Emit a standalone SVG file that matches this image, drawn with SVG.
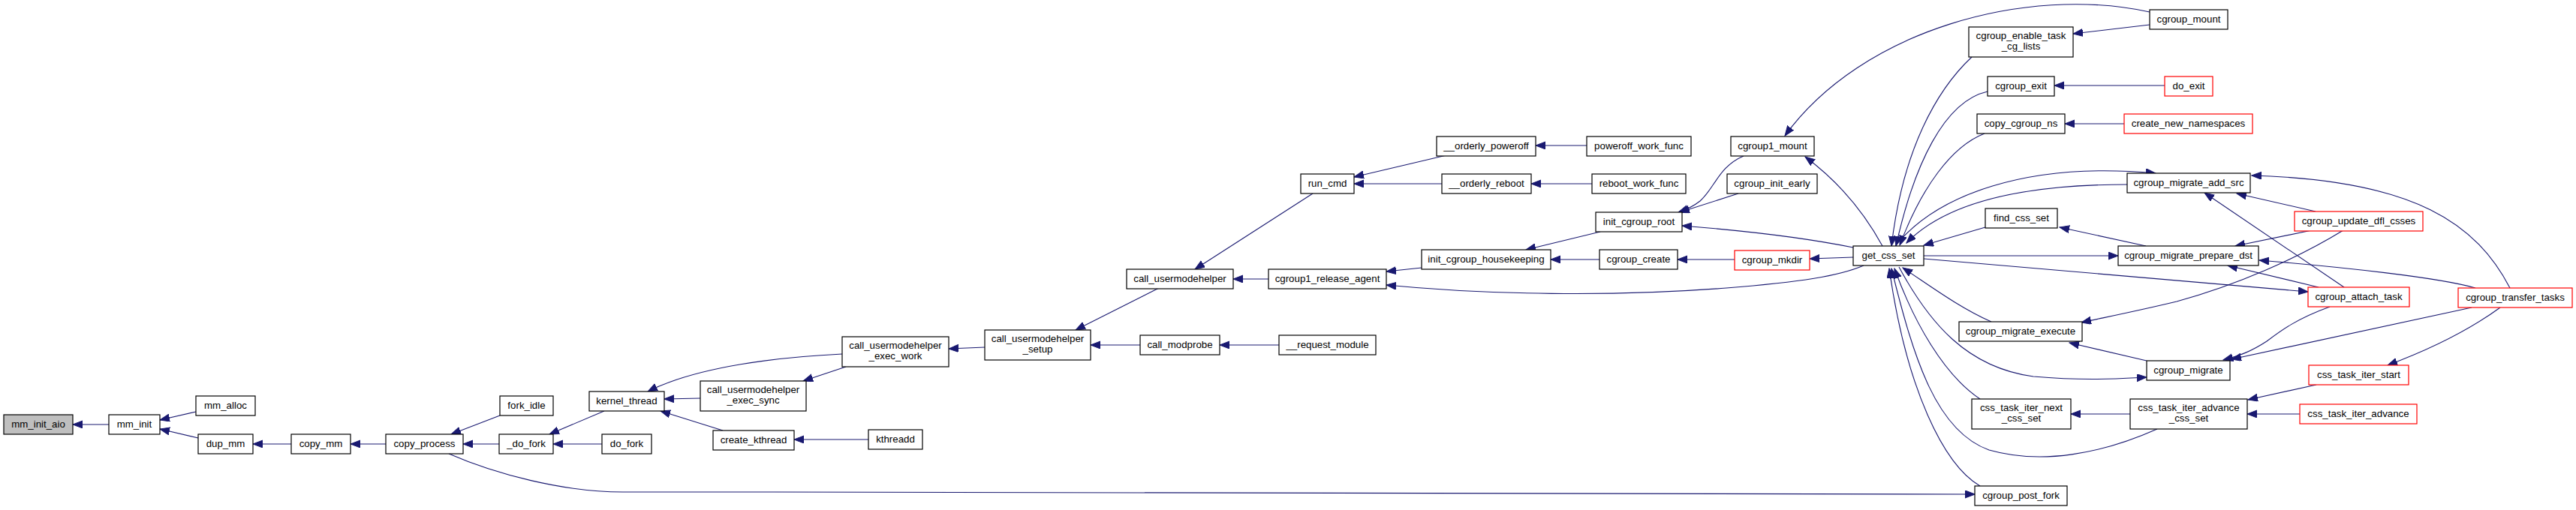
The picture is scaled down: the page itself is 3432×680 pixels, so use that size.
<svg xmlns="http://www.w3.org/2000/svg" width="3432" height="680" viewBox="0 0 3432 680">
<defs>
<style>
.n rect{fill:#fff;stroke:#000;stroke-width:1.2}
.n.root rect{fill:#bfbfbf}
.n.red rect{stroke:#ff0000}
.n text{font-family:"Liberation Sans",Arial,sans-serif;font-size:13.3px;fill:#000;text-anchor:middle}
#edges path{fill:none;stroke:#191970;stroke-width:1.1;marker-end:url(#ah)}
</style>
<marker id="ah" markerWidth="14" markerHeight="11" refX="13" refY="5" orient="auto" markerUnits="userSpaceOnUse">
<path d="M0,0 L13,5 L0,10 z" fill="#191970" stroke="#191970" stroke-width="1"/>
</marker>
</defs>
<rect width="3432" height="680" fill="#fff"/>
<g id="edges">
<path d="M145,566 L97,566"/>
<path d="M261,549 L213,560"/>
<path d="M264,584 L213,572"/>
<path d="M388,592 L337,592"/>
<path d="M514,592 L467,592"/>
<path d="M666,554 L601,579"/>
<path d="M665,592 L617,592"/>
<path d="M805,548 L732,579"/>
<path d="M802,592 L737,592"/>
<path d="M933,531 L885,532"/>
<path d="M963,574 L880,548"/>
<path d="M1122,472 C1040,476 930,488 863,522"/>
<path d="M1127,489 L1070,508"/>
<path d="M1157,586 L1058,586"/>
<path d="M1312,463 L1264,465"/>
<path d="M1544,384 L1433,440"/>
<path d="M1519,460 L1453,460"/>
<path d="M1704,460 L1625,460"/>
<path d="M1749,258 L1592,359"/>
<path d="M1690,372 L1643,372"/>
<path d="M1927,207 L1804,236"/>
<path d="M1921,245 L1804,245"/>
<path d="M2114,194 L2046,194"/>
<path d="M2121,245 L2040,245"/>
<path d="M1894,357 L1847,362"/>
<path d="M2132,309 L2033,333"/>
<path d="M2131,346 L2066,346"/>
<path d="M2311,346 L2235,346"/>
<path d="M2469,343 L2411,345"/>
<path d="M2483,354 C2450,368 2400,376 2300,384 C2150,396 1980,393 1847,380"/>
<path d="M2469,330 C2400,316 2330,308 2241,301"/>
<path d="M2323,208 C2290,222 2285,250 2265,268 C2255,276 2245,280 2236,283"/>
<path d="M2316,258 L2238,283"/>
<path d="M2508,328 C2490,295 2460,250 2405,209"/>
<path d="M2864,16 C2700,-20 2480,40 2378,181"/>
<path d="M2864,33 L2762,45"/>
<path d="M2627,76 C2580,120 2535,200 2520,328"/>
<path d="M2648,122 C2590,135 2550,220 2526,328"/>
<path d="M2644,178 C2600,195 2560,250 2531,327"/>
<path d="M2834,246 C2720,246 2600,262 2540,324"/>
<path d="M2525,328 C2580,260 2700,215 2872,231"/>
<path d="M2645,303 L2563,327"/>
<path d="M2859,328 L2744,303"/>
<path d="M2563,341 L2822,341"/>
<path d="M2563,345 L3075,389"/>
<path d="M2653,429 C2610,410 2570,380 2535,357"/>
<path d="M2530,356 C2570,430 2620,490 2709,502 C2780,508 2820,505 2860,503"/>
<path d="M2638,532 C2590,500 2550,430 2524,358"/>
<path d="M2874,572 C2800,605 2720,620 2650,600 C2580,575 2550,480 2520,358"/>
<path d="M2638,648 C2590,620 2540,520 2517,358"/>
<path d="M598,605 C660,632 750,656 830,656 C1500,656 2200,656 2631,659"/>
<path d="M2884,114 L2737,114"/>
<path d="M2830,165 L2751,165"/>
<path d="M3122,307 C3060,345 2980,380 2900,402 C2850,414 2810,422 2773,430"/>
<path d="M2860,481 L2757,457"/>
<path d="M3085,282 L2980,258"/>
<path d="M3080,307 L2978,328"/>
<path d="M3123,383 L2937,257"/>
<path d="M3089,383 L2968,354"/>
<path d="M3298,384 C3250,370 3120,356 3010,347"/>
<path d="M3344,384 C3300,300 3220,240 3000,234"/>
<path d="M3104,409 C3060,425 3040,440 3020,455 C3000,468 2985,474 2962,480"/>
<path d="M3293,410 L2973,479"/>
<path d="M3331,410 C3290,440 3240,465 3181,487"/>
<path d="M3086,513 L2995,533"/>
<path d="M3064,552 L2994,552"/>
<path d="M2838,552 L2759,552"/>
</g>
<g id="mm_init_aio" class="n root"><rect x="5" y="553" width="92" height="26"/><text x="51" y="570">mm_init_aio</text></g>
<g id="mm_init" class="n"><rect x="145" y="553" width="68" height="26"/><text x="179" y="570">mm_init</text></g>
<g id="mm_alloc" class="n"><rect x="261" y="528" width="79" height="26"/><text x="300.5" y="545">mm_alloc</text></g>
<g id="dup_mm" class="n"><rect x="264" y="579" width="73" height="26"/><text x="300.5" y="596">dup_mm</text></g>
<g id="copy_mm" class="n"><rect x="388" y="579" width="79" height="26"/><text x="427.5" y="596">copy_mm</text></g>
<g id="copy_process" class="n"><rect x="514" y="579" width="103" height="26"/><text x="565.5" y="596">copy_process</text></g>
<g id="fork_idle" class="n"><rect x="666" y="528" width="71" height="26"/><text x="701.5" y="545">fork_idle</text></g>
<g id="_do_fork" class="n"><rect x="665" y="579" width="72" height="26"/><text x="701" y="596">_do_fork</text></g>
<g id="do_fork" class="n"><rect x="802" y="579" width="66" height="26"/><text x="835" y="596">do_fork</text></g>
<g id="kernel_thread" class="n"><rect x="785" y="522" width="100" height="26"/><text x="835" y="539">kernel_thread</text></g>
<g id="call_usermodehelper_exec_sync" class="n"><rect x="933" y="508" width="141" height="40"/><text x="1003.5" y="524">call_usermodehelper</text><text x="1003.5" y="538">_exec_sync</text></g>
<g id="create_kthread" class="n"><rect x="950" y="574" width="108" height="26"/><text x="1004" y="591">create_kthread</text></g>
<g id="call_usermodehelper_exec_work" class="n"><rect x="1122" y="449" width="142" height="40"/><text x="1193" y="465">call_usermodehelper</text><text x="1193" y="479">_exec_work</text></g>
<g id="kthreadd" class="n"><rect x="1157" y="573" width="72" height="26"/><text x="1193" y="590">kthreadd</text></g>
<g id="call_usermodehelper_setup" class="n"><rect x="1312" y="440" width="141" height="40"/><text x="1382.5" y="456">call_usermodehelper</text><text x="1382.5" y="470">_setup</text></g>
<g id="call_modprobe" class="n"><rect x="1519" y="447" width="106" height="26"/><text x="1572" y="464">call_modprobe</text></g>
<g id="__request_module" class="n"><rect x="1704" y="447" width="129" height="26"/><text x="1768.5" y="464">__request_module</text></g>
<g id="call_usermodehelper" class="n"><rect x="1501" y="359" width="142" height="26"/><text x="1572" y="376">call_usermodehelper</text></g>
<g id="cgroup1_release_agent" class="n"><rect x="1690" y="359" width="157" height="26"/><text x="1768.5" y="376">cgroup1_release_agent</text></g>
<g id="run_cmd" class="n"><rect x="1733" y="232" width="71" height="26"/><text x="1768.5" y="249">run_cmd</text></g>
<g id="__orderly_poweroff" class="n"><rect x="1914" y="182" width="132" height="26"/><text x="1980" y="199">__orderly_poweroff</text></g>
<g id="poweroff_work_func" class="n"><rect x="2114" y="182" width="139" height="26"/><text x="2183.5" y="199">poweroff_work_func</text></g>
<g id="__orderly_reboot" class="n"><rect x="1921" y="232" width="119" height="26"/><text x="1980.5" y="249">__orderly_reboot</text></g>
<g id="reboot_work_func" class="n"><rect x="2121" y="232" width="125" height="26"/><text x="2183.5" y="249">reboot_work_func</text></g>
<g id="init_cgroup_root" class="n"><rect x="2126" y="283" width="115" height="26"/><text x="2183.5" y="300">init_cgroup_root</text></g>
<g id="init_cgroup_housekeeping" class="n"><rect x="1894" y="333" width="172" height="26"/><text x="1980" y="350">init_cgroup_housekeeping</text></g>
<g id="cgroup_create" class="n"><rect x="2131" y="333" width="104" height="26"/><text x="2183" y="350">cgroup_create</text></g>
<g id="cgroup1_mount" class="n"><rect x="2306" y="182" width="111" height="26"/><text x="2361.5" y="199">cgroup1_mount</text></g>
<g id="cgroup_init_early" class="n"><rect x="2301" y="232" width="120" height="26"/><text x="2361" y="249">cgroup_init_early</text></g>
<g id="cgroup_mkdir" class="n red"><rect x="2311" y="334" width="100" height="26"/><text x="2361" y="351">cgroup_mkdir</text></g>
<g id="get_css_set" class="n"><rect x="2469" y="328" width="94" height="26"/><text x="2516" y="345">get_css_set</text></g>
<g id="cgroup_enable_task_cg_lists" class="n"><rect x="2623" y="36" width="139" height="40"/><text x="2692.5" y="52">cgroup_enable_task</text><text x="2692.5" y="66">_cg_lists</text></g>
<g id="cgroup_exit" class="n"><rect x="2648" y="102" width="89" height="26"/><text x="2692.5" y="119">cgroup_exit</text></g>
<g id="copy_cgroup_ns" class="n"><rect x="2634" y="152" width="117" height="26"/><text x="2692.5" y="169">copy_cgroup_ns</text></g>
<g id="find_css_set" class="n"><rect x="2645" y="278" width="96" height="26"/><text x="2693" y="295">find_css_set</text></g>
<g id="cgroup_migrate_execute" class="n"><rect x="2610" y="429" width="164" height="26"/><text x="2692" y="446">cgroup_migrate_execute</text></g>
<g id="css_task_iter_next_css_set" class="n"><rect x="2627" y="532" width="132" height="40"/><text x="2693" y="548">css_task_iter_next</text><text x="2693" y="562">_css_set</text></g>
<g id="cgroup_post_fork" class="n"><rect x="2631" y="648" width="123" height="26"/><text x="2692.5" y="665">cgroup_post_fork</text></g>
<g id="cgroup_mount" class="n"><rect x="2864" y="13" width="104" height="26"/><text x="2916" y="30">cgroup_mount</text></g>
<g id="do_exit" class="n red"><rect x="2884" y="102" width="64" height="26"/><text x="2916" y="119">do_exit</text></g>
<g id="create_new_namespaces" class="n red"><rect x="2830" y="152" width="171" height="26"/><text x="2915.5" y="169">create_new_namespaces</text></g>
<g id="cgroup_migrate_add_src" class="n"><rect x="2834" y="231" width="164" height="26"/><text x="2916" y="248">cgroup_migrate_add_src</text></g>
<g id="cgroup_update_dfl_csses" class="n red"><rect x="3057" y="282" width="171" height="26"/><text x="3142.5" y="299">cgroup_update_dfl_csses</text></g>
<g id="cgroup_migrate_prepare_dst" class="n"><rect x="2822" y="328" width="187" height="26"/><text x="2915.5" y="345">cgroup_migrate_prepare_dst</text></g>
<g id="cgroup_attach_task" class="n red"><rect x="3075" y="383" width="135" height="26"/><text x="3142.5" y="400">cgroup_attach_task</text></g>
<g id="cgroup_transfer_tasks" class="n red"><rect x="3275" y="384" width="152" height="26"/><text x="3351" y="401">cgroup_transfer_tasks</text></g>
<g id="cgroup_migrate" class="n"><rect x="2860" y="481" width="111" height="26"/><text x="2915.5" y="498">cgroup_migrate</text></g>
<g id="css_task_iter_start" class="n red"><rect x="3076" y="487" width="133" height="26"/><text x="3142.5" y="504">css_task_iter_start</text></g>
<g id="css_task_iter_advance_css_set" class="n"><rect x="2838" y="532" width="156" height="40"/><text x="2916" y="548">css_task_iter_advance</text><text x="2916" y="562">_css_set</text></g>
<g id="css_task_iter_advance" class="n red"><rect x="3064" y="539" width="156" height="26"/><text x="3142" y="556">css_task_iter_advance</text></g>
</svg>
